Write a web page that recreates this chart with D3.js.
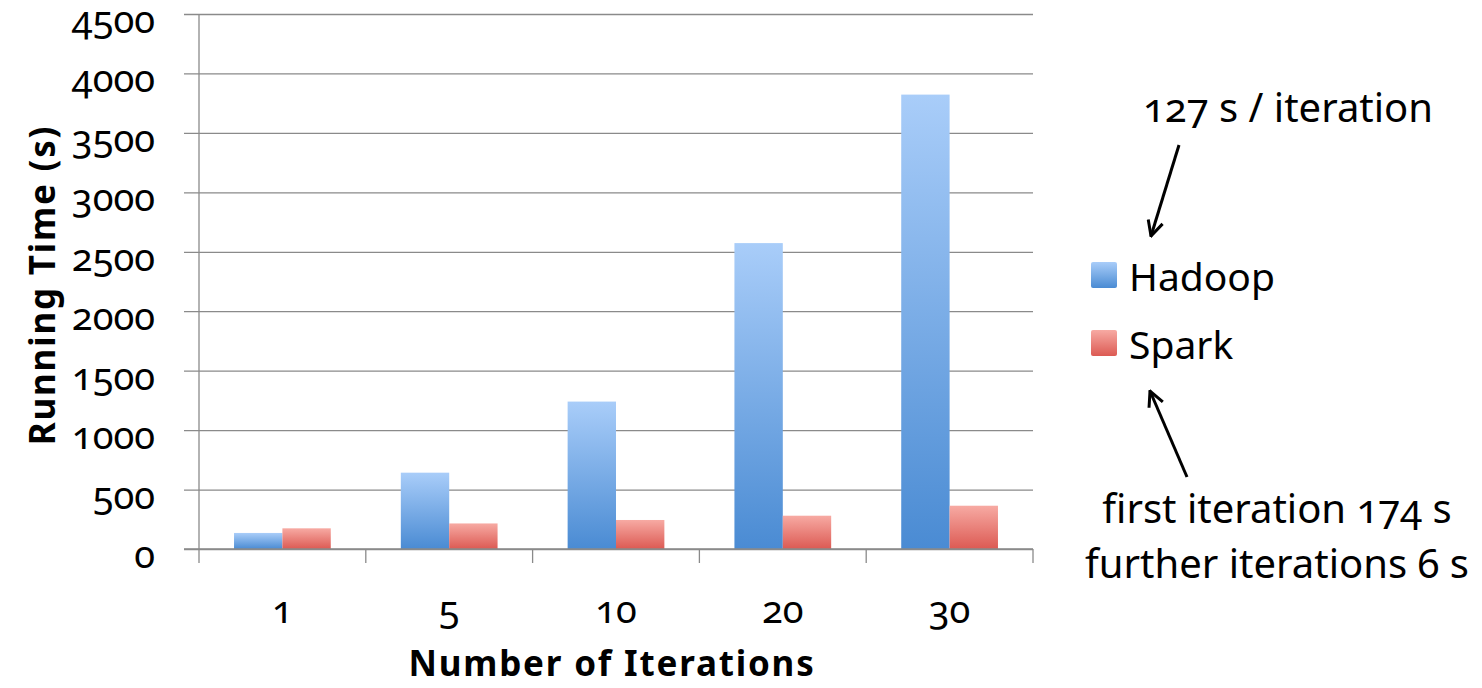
<!DOCTYPE html>
<html>
<head>
<meta charset="utf-8">
<script src="https://cdn.jsdelivr.net/npm/d3@7"></script>
<style>
  body { margin: 0; background: #fff; }
  svg text { font-family: "Noto Sans", "Open Sans", sans-serif; fill: #000; }
  .num { font-variant-numeric: oldstyle-nums; }
</style>
</head>
<body>
<div id="chart"></div>
<script>
// values
const categories = ["1", "5", "10", "20", "30"];
const seriesNames = ["Hadoop", "Spark"];
const hadoop = [135, 642, 1240, 2573, 3822];
const spark = [174, 215, 244, 280, 364];
const yTicks = [0, 500, 1000, 1500, 2000, 2500, 3000, 3500, 4000, 4500];

const W = 1482, H = 688;
const margin = { top: 14, right: 449, bottom: 139, left: 199 };
const width = W - margin.left - margin.right;
const height = H - margin.top - margin.bottom;

const svg = d3.select("#chart")
  .append("svg")
  .attr("width", W)
  .attr("height", H);

const defs = svg.append("defs");
const grads = [
  { id: "gHadoop", top: "#a9cdf9", bottom: "#4a8bd3" },
  { id: "gSpark", top: "#f7aaa3", bottom: "#dc5a53" }
];
grads.forEach(g => {
  const lg = defs.append("linearGradient")
    .attr("id", g.id).attr("x1", 0).attr("y1", 0).attr("x2", 0).attr("y2", 1);
  lg.append("stop").attr("offset", "0%").attr("stop-color", g.top);
  lg.append("stop").attr("offset", "100%").attr("stop-color", g.bottom);
});
const fills = { Hadoop: "url(#gHadoop)", Spark: "url(#gSpark)" };

defs.append("marker")
  .attr("id", "arrow")
  .attr("viewBox", "0 0 12 12")
  .attr("refX", 11).attr("refY", 6)
  .attr("markerWidth", 6).attr("markerHeight", 6)
  .attr("markerUnits", "strokeWidth")
  .attr("orient", "auto")
  .append("path")
  .attr("d", "M1,1 L11,6 L1,11")
  .attr("fill", "none")
  .attr("stroke", "#000")
  .attr("stroke-width", 2);

const g = svg.append("g")
  .attr("transform", `translate(${margin.left},${margin.top})`);

const x = d3.scaleBand()
  .domain(categories)
  .range([0, width])
  .paddingInner(0.42)
  .paddingOuter(0.21);

const x1 = d3.scaleBand()
  .domain(seriesNames)
  .range([0, x.bandwidth()]);

const y = d3.scaleLinear()
  .domain([0, 4500])
  .range([height, 0]);

// gridlines
const yAxis = g.append("g")
  .call(d3.axisLeft(y).tickValues(yTicks).tickSize(-width - 15).tickFormat(""));
yAxis.select(".domain").remove();
yAxis.selectAll(".tick line")
  .attr("x1", -15)
  .attr("x2", width)
  .attr("stroke", "#8a8a8a")
  .attr("stroke-width", 1.3);

g.append("line")
  .attr("x1", 0).attr("x2", 0)
  .attr("y1", 0).attr("y2", height)
  .attr("stroke", "#8a8a8a").attr("stroke-width", 1.3);

g.append("g")
  .selectAll("text")
  .data(yTicks)
  .enter()
  .append("text")
  .attr("class", "num")
  .attr("x", -44)
  .attr("y", d => y(d) + 19)
  .attr("text-anchor", "end")
  .style("font-size", "38px")
  .text(d => d);

// x axis ticks at band boundaries
const step = x.step();
const xBounds = d3.range(categories.length + 1).map(i => i * step);
g.append("g")
  .selectAll("line")
  .data(xBounds)
  .enter()
  .append("line")
  .attr("x1", d => d).attr("x2", d => d)
  .attr("y1", height).attr("y2", height + 14)
  .attr("stroke", "#8a8a8a").attr("stroke-width", 1.3);

g.append("g")
  .selectAll("text")
  .data(categories)
  .enter()
  .append("text")
  .attr("class", "num")
  .attr("x", d => x(d) + x.bandwidth() / 2)
  .attr("y", height + 74)
  .attr("text-anchor", "middle")
  .style("font-size", "38px")
  .text(d => d);

// bars
const rows = categories.map((c, i) => ({ cat: c, Hadoop: hadoop[i], Spark: spark[i] }));
g.append("g")
  .selectAll("g")
  .data(rows)
  .enter()
  .append("g")
  .attr("transform", d => `translate(${x(d.cat)},0)`)
  .selectAll("rect")
  .data(d => seriesNames.map(s => ({ s, v: d[s] })))
  .enter()
  .append("rect")
  .attr("x", d => x1(d.s))
  .attr("y", d => y(d.v))
  .attr("width", x1.bandwidth())
  .attr("height", d => height - y(d.v))
  .attr("fill", d => fills[d.s]);

g.append("line")
  .attr("x1", -15).attr("x2", width)
  .attr("y1", height).attr("y2", height)
  .attr("stroke", "#8a8a8a").attr("stroke-width", 1.3);

// axis titles
svg.append("text")
  .attr("x", margin.left + width / 2 - 4)
  .attr("y", 676)
  .attr("text-anchor", "middle")
  .style("font-size", "35px")
  .style("font-weight", "bold")
  .style("letter-spacing", "1.8px")
  .text("Number of Iterations");

svg.append("text")
  .attr("transform", `translate(55,285)rotate(-90)`)
  .attr("text-anchor", "middle")
  .style("font-size", "35px")
  .style("font-weight", "bold")
  .style("letter-spacing", "1.8px")
  .text("Running Time (s)");

// legend
const legend = svg.append("g").attr("transform", "translate(1091,262)");
seriesNames.forEach((s, i) => {
  const row = legend.append("g").attr("transform", `translate(0,${i * 68})`);
  row.append("rect")
    .attr("width", 26).attr("height", 26)
    .attr("rx", 2)
    .attr("fill", fills[s]);
  row.append("text")
    .attr("x", 38)
    .attr("y", 29)
    .style("font-size", "39px")
    .text(s);
});

// annotations
svg.append("text")
  .attr("class", "num")
  .attr("x", 1288)
  .attr("y", 122)
  .attr("text-anchor", "middle")
  .style("font-size", "40px")
  .text("127 s / iteration");

svg.append("line")
  .attr("x1", 1179).attr("y1", 145)
  .attr("x2", 1151).attr("y2", 236)
  .attr("stroke", "#000").attr("stroke-width", 3)
  .attr("marker-end", "url(#arrow)");

svg.append("line")
  .attr("x1", 1187).attr("y1", 477)
  .attr("x2", 1150).attr("y2", 391)
  .attr("stroke", "#000").attr("stroke-width", 3)
  .attr("marker-end", "url(#arrow)");

svg.append("text")
  .attr("class", "num")
  .attr("x", 1277)
  .attr("y", 523)
  .attr("text-anchor", "middle")
  .style("font-size", "40px")
  .text("first iteration 174 s");

svg.append("text")
  .attr("class", "num")
  .attr("x", 1277)
  .attr("y", 578)
  .attr("text-anchor", "middle")
  .style("font-size", "40px")
  .text("further iterations 6 s");
</script>
</body>
</html>
